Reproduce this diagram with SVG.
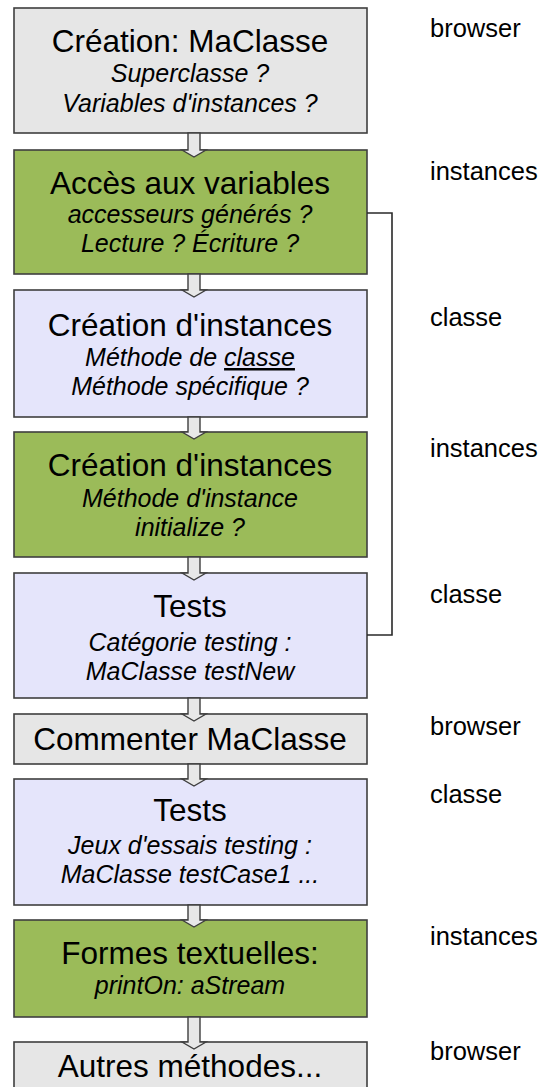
<svg xmlns="http://www.w3.org/2000/svg" width="546" height="1087" viewBox="0 0 546 1087">
  <style>
    .box { stroke: #3f3f3f; stroke-width: 1.6; }
    .gray { fill: #e6e6e6; }
    .green { fill: #9bbb59; }
    .lav { fill: #e5e5fb; }
    .title { font-family: "Liberation Sans", Arial, sans-serif; font-size: 31.5px; fill: #000; text-anchor: middle; }
    .sub { font-family: "Liberation Sans", Arial, sans-serif; font-size: 25px; font-style: italic; fill: #000; text-anchor: middle; }
    .side { font-family: "Liberation Sans", Arial, sans-serif; font-size: 25.5px; fill: #000; }
    .flow { fill: #e8e8e8; stroke: #3f3f3f; stroke-width: 1.4; stroke-linejoin: miter; }
    .link { fill: none; stroke: #2a2a2a; stroke-width: 1.6; }
  </style>

  <!-- steps -->
  <g id="creation-maclasse">
    <rect class="box gray" x="14" y="8" width="353" height="125"/>
    <text class="title" x="190" y="52">Création: MaClasse</text>
    <text class="sub" x="190" y="82">Superclasse ?</text>
    <text class="sub" x="190" y="112">Variables d'instances ?</text>
  </g>

  <g id="acces-variables">
    <rect class="box green" x="14" y="150" width="353" height="124"/>
    <text class="title" x="190" y="194">Accès aux variables</text>
    <text class="sub" x="190" y="223">accesseurs générés ?</text>
    <text class="sub" x="190" y="252">Lecture ? Écriture ?</text>
  </g>

  <g id="creation-instances-classe">
    <rect class="box lav" x="14" y="290" width="353" height="127"/>
    <text class="title" x="190" y="336">Création d'instances</text>
    <text class="sub" x="190" y="366">Méthode de <tspan text-decoration="underline">classe</tspan></text>
    <text class="sub" x="190" y="395">Méthode spécifique ?</text>
  </g>

  <g id="creation-instances-instance">
    <rect class="box green" x="14" y="432" width="353" height="125"/>
    <text class="title" x="190" y="476">Création d'instances</text>
    <text class="sub" x="190" y="507">Méthode d'instance</text>
    <text class="sub" x="190" y="536">initialize ?</text>
  </g>

  <g id="tests-new">
    <rect class="box lav" x="14" y="573" width="353" height="125"/>
    <text class="title" x="190" y="617">Tests</text>
    <text class="sub" x="190" y="651">Catégorie testing :</text>
    <text class="sub" x="190" y="680">MaClasse testNew</text>
  </g>

  <g id="commenter">
    <rect class="box gray" x="14" y="714" width="353" height="50"/>
    <text class="title" x="190" y="750">Commenter MaClasse</text>
  </g>

  <g id="tests-cases">
    <rect class="box lav" x="14" y="779" width="353" height="126"/>
    <text class="title" x="190" y="821">Tests</text>
    <text class="sub" x="190" y="854">Jeux d'essais testing :</text>
    <text class="sub" x="190" y="883">MaClasse testCase1 ...</text>
  </g>

  <g id="formes-textuelles">
    <rect class="box green" x="14" y="920" width="353" height="97"/>
    <text class="title" x="190" y="964">Formes textuelles:</text>
    <text class="sub" x="190" y="994">printOn: aStream</text>
  </g>

  <g id="autres-methodes">
    <rect class="box gray" x="14" y="1042" width="353" height="60"/>
    <text class="title" x="190" y="1077">Autres méthodes...</text>
  </g>

  <!-- side labels -->
  <g id="side-labels">
    <text class="side" x="430" y="37">browser</text>
    <text class="side" x="430" y="180">instances</text>
    <text class="side" x="430" y="326">classe</text>
    <text class="side" x="430" y="457">instances</text>
    <text class="side" x="430" y="603">classe</text>
    <text class="side" x="430" y="735">browser</text>
    <text class="side" x="430" y="803">classe</text>
    <text class="side" x="430" y="945">instances</text>
    <text class="side" x="430" y="1060">browser</text>
  </g>

  <!-- connectors -->
  <g id="connectors">
    <polygon class="flow" points="188,133 200,133 200,150 206,150 194,157 182,150 188,150"/>
    <polygon class="flow" points="188,274 200,274 200,290 206,290 194,297 182,290 188,290"/>
    <polygon class="flow" points="188,417 200,417 200,432 206,432 194,439 182,432 188,432"/>
    <polygon class="flow" points="188,557 200,557 200,573 206,573 194,580 182,573 188,573"/>
    <polygon class="flow" points="188,698 200,698 200,714 206,714 194,721 182,714 188,714"/>
    <polygon class="flow" points="188,764 200,764 200,779 206,779 194,786 182,779 188,779"/>
    <polygon class="flow" points="188,905 200,905 200,920 206,920 194,927 182,920 188,920"/>
    <polygon class="flow" points="188,1017 200,1017 200,1042 206,1042 194,1049 182,1042 188,1042"/>
    <polyline class="link" points="367,213 392,213 392,635 367,635"/>
  </g>
</svg>
